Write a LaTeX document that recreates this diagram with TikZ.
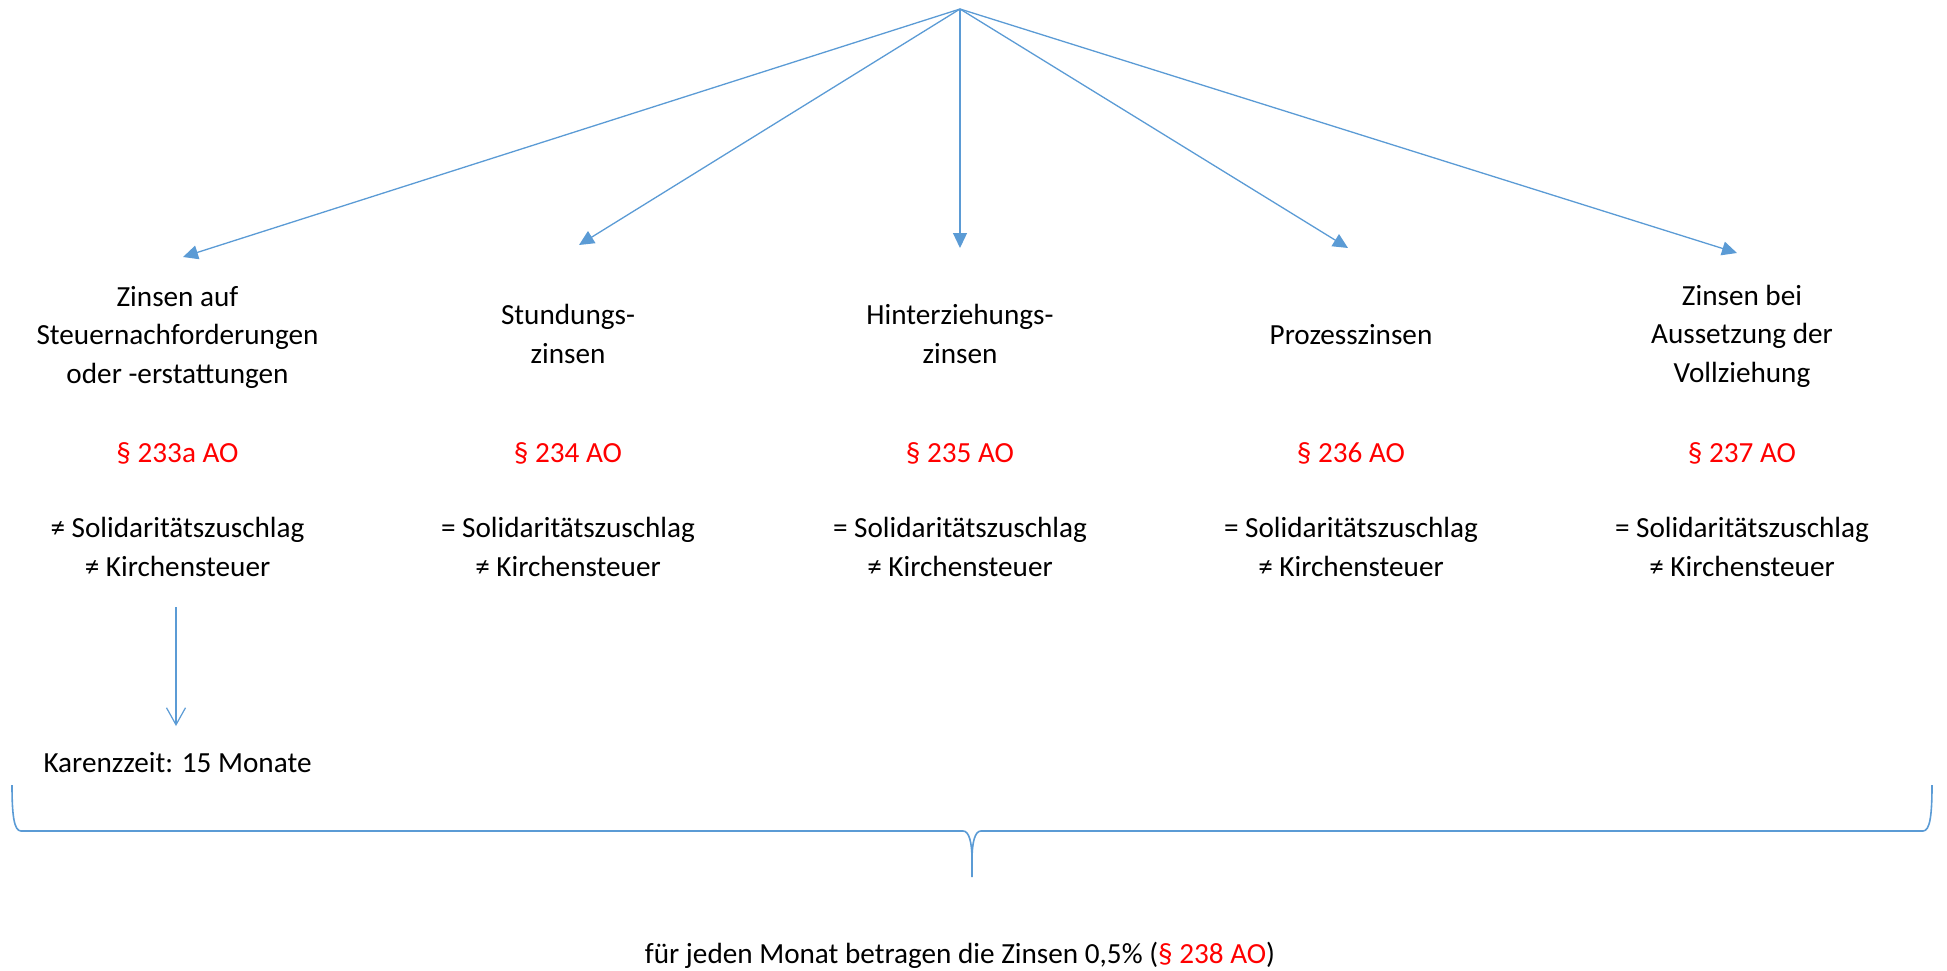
\documentclass[tikz,border=0pt]{standalone}
\usepackage{fontspec}
\setmainfont{Carlito}
\usetikzlibrary{arrows.meta}
\definecolor{linkblue}{HTML}{5B9BD5}
\definecolor{lawred}{HTML}{FF0000}

\begin{document}
\begin{tikzpicture}[x=1pt,y=-1pt,
  % text nodes are placed by the baseline of their last line
  txt/.style={inner sep=0pt, anchor=base, align=center,
              font=\fontsize{29.2}{38.5}\selectfont},
  para/.style={txt, text=lawred},
  branch/.style={draw=linkblue, line width=1.3pt,
                 -{Triangle[length=15pt,width=14pt]}},
  openarrow/.style={draw=linkblue, line width=1.2pt,
                 -{Straight Barb[length=17pt,width=19pt]}},
  bracestyle/.style={draw=linkblue, line width=1.6pt, line join=round}]

  \useasboundingbox (0,0) rectangle (1947,971);

  % apex and arrow targets
  \coordinate (top) at (960,9);
  \coordinate (t1) at (183,257);
  \coordinate (t2) at (579,245);
  \coordinate (t3) at (960,248);
  \coordinate (t4) at (1348,248);
  \coordinate (t5) at (1737,253);

  % titles
  \node[txt] (n1) at (177.5,383) {Zinsen auf\\Steuernachforderungen\\oder -erstattungen};
  \node[txt] (n2) at (568,363) {Stundungs-\\zinsen};
  \node[txt] (n3) at (960,363) {Hinterziehungs-\\zinsen};
  \node[txt] (n4) at (1351,344) {Prozesszinsen};
  \node[txt] (n5) at (1742,382) {Zinsen bei\\Aussetzung der\\Vollziehung};

  % paragraphs
  \node[para] (p1) at (177.5,462) {§ 233a AO};
  \node[para] (p2) at (568,462) {§ 234 AO};
  \node[para] (p3) at (960,462) {§ 235 AO};
  \node[para] (p4) at (1351,462) {§ 236 AO};
  \node[para] (p5) at (1742,462) {§ 237 AO};

  % surcharges
  \node[txt] (s1) at (177.5,576) {≠ Solidaritätszuschlag\\≠ Kirchensteuer};
  \node[txt] (s2) at (568,576) {= Solidaritätszuschlag\\≠ Kirchensteuer};
  \node[txt] (s3) at (960,576) {= Solidaritätszuschlag\\≠ Kirchensteuer};
  \node[txt] (s4) at (1351,576) {= Solidaritätszuschlag\\≠ Kirchensteuer};
  \node[txt] (s5) at (1742,576) {= Solidaritätszuschlag\\≠ Kirchensteuer};

  % grace period
  \coordinate (k0) at (176,607);
  \coordinate (k1) at (176,726);
  \node[txt] (karenz) at (177.5,772) {Karenzzeit: 15 Monate};

  % bottom statement
  \node[txt] (total) at (960,963) {für jeden Monat betragen die Zinsen 0,5\% ({\color{lawred}§ 238 AO})};

  % branches
  \foreach \t in {t1,t2,t3,t4,t5}
    \draw[branch] (top) -- (\t);
  \draw[openarrow] (k0) -- (k1);

  % brace spanning all columns
  \coordinate (bl) at (12,785);
  \coordinate (br) at (1932,785);
  \coordinate (bm) at (972,877);
  \draw[bracestyle] (bl) .. controls (12,815) and (14,831) .. (21,831)
    -- (963,831) .. controls (969,831) and (972,842) .. (972,860) -- (bm);
  \draw[bracestyle] (br) .. controls (1932,815) and (1930,831) .. (1923,831)
    -- (981,831) .. controls (975,831) and (972,842) .. (972,860);
\end{tikzpicture}
\end{document}
